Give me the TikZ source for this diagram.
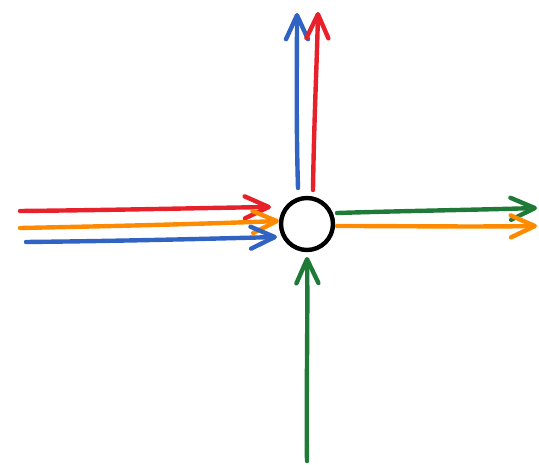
\documentclass[tikz,border=0pt]{standalone}
\usetikzlibrary{arrows.meta}
\definecolor{cred}{HTML}{E8202A}
\definecolor{corange}{HTML}{FF8A00}
\definecolor{cblue}{HTML}{3063C2}
\definecolor{cgreen}{HTML}{1E7A36}
\begin{document}
\begin{tikzpicture}[x=1pt,y=-1pt,
  flow/.style={line width=4.4pt,line cap=round,line join=round,
    -{Straight Barb[length=24pt,width=22pt,line width=4.4pt,round]}},
  hub/.style={circle,draw=black,line width=4.4pt,minimum size=52pt,inner sep=0pt}]
\useasboundingbox (0,0) rectangle (539,465);
\node[hub] (c) at (307,224) {};
% incoming from left
\coordinate (rs) at (20,211);  \coordinate (re) at (271,207);
\coordinate (os) at (20,228);  \coordinate (oe) at (279,221);
\coordinate (bs) at (26,242);  \coordinate (be) at (277,237);
\draw[flow,cred] (rs) .. controls (120,210) and (200,208) .. (re);
\draw[flow,corange] (os) .. controls (120,226) and (200,224) .. (oe);
\draw[flow,cblue] (bs) .. controls (120,241) and (200,239) .. (be);
% outgoing up
\coordinate (bu0) at (298,188); \coordinate (bu1) at (297,13);
\coordinate (ru0) at (313,190); \coordinate (ru1) at (318,12);
\draw[flow,cblue] (bu0) .. controls (296,120) and (297,60) .. (bu1);
\draw[flow,cred] (ru0) .. controls (314,120) and (317,60) .. (ru1);
% outgoing right
\coordinate (g0) at (337,213); \coordinate (g1) at (537,208);
\coordinate (o0) at (337,226); \coordinate (o1) at (537,226);
\draw[flow,cgreen] (g0) .. controls (400,211) and (470,210) .. (g1);
\draw[flow,corange] (o0) .. controls (400,226) and (470,227) .. (o1);
% incoming from below
\coordinate (gb) at (307,461); \coordinate (gt) at (307,257);
\draw[flow,cgreen] (gb) .. controls (306,400) and (308,320) .. (gt);
\end{tikzpicture}
\end{document}
